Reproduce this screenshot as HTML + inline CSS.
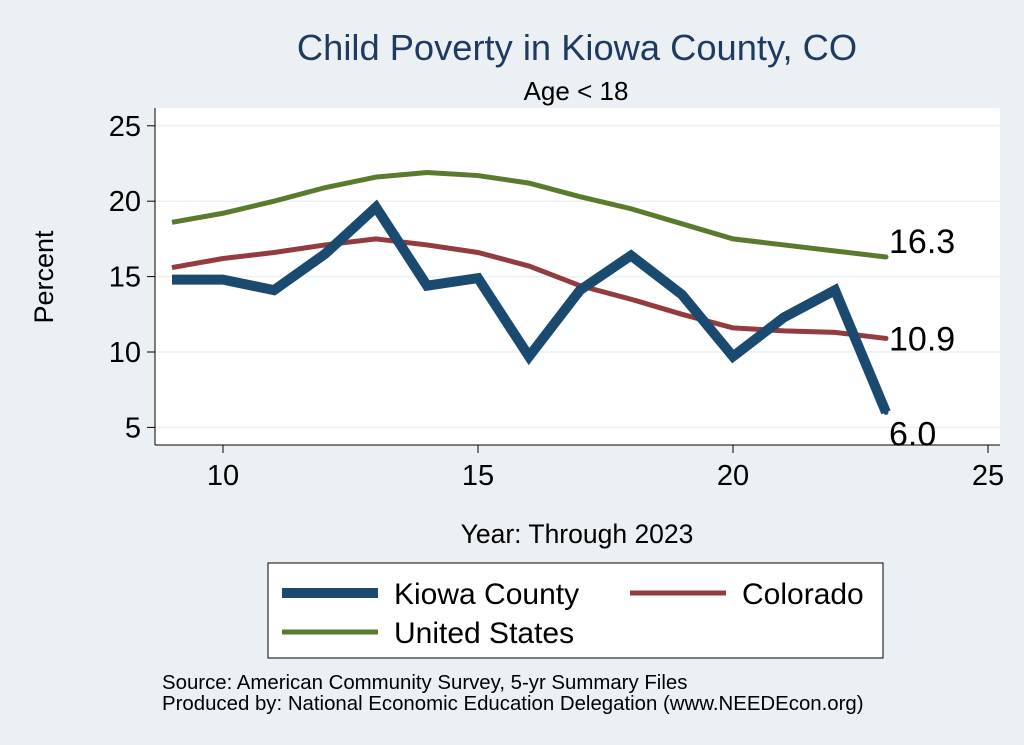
<!DOCTYPE html>
<html><head><meta charset="utf-8"><style>
html,body{margin:0;padding:0;background:#eaf0f3;}
svg{display:block;font-family:"Liberation Sans",Arial,sans-serif;}
</style></head><body>
<svg id="chart" width="1024" height="745" viewBox="0 0 1024 745">
<rect x="0" y="0" width="1024" height="745" fill="#eaf0f3"/>
<rect x="155" y="108" width="845" height="337" fill="#ffffff"/>
<text x="577" y="60" text-anchor="middle" font-size="36.3" fill="#1e3a5f">Child Poverty in Kiowa County, CO</text>
<text x="576" y="100" text-anchor="middle" font-size="26" fill="#000">Age &lt; 18</text>
<text transform="translate(53,277) rotate(-90)" text-anchor="middle" font-size="27" fill="#000">Percent</text>
<text x="577" y="543" text-anchor="middle" font-size="26.5" fill="#000">Year: Through 2023</text>
<g id="grid"></g><g id="axes"></g><g id="series"></g><g id="labels"></g>
<rect x="268" y="563" width="615" height="95" fill="#fff" stroke="#000" stroke-width="1"/>
<line x1="282" y1="593" x2="378" y2="593" stroke="#1b4a70" stroke-width="10"/>
<text x="394" y="604" font-size="30">Kiowa County</text>
<line x1="630" y1="593" x2="726" y2="593" stroke="#933b3f" stroke-width="5"/>
<text x="742" y="604" font-size="30">Colorado</text>
<line x1="282" y1="632" x2="378" y2="632" stroke="#5a7a2e" stroke-width="5"/>
<text x="394" y="643" font-size="30">United States</text>
<text x="162" y="689" font-size="20.4">Source: American Community Survey, 5-yr Summary Files</text>
<text x="162" y="710" font-size="20.4">Produced by: National Economic Education Delegation (www.NEEDEcon.org)</text>
</svg>
<script>
const years=[9,10,11,12,13,14,15,16,17,18,19,20,21,22,23];
const kiowa=[14.8,14.8,14.1,16.5,19.6,14.4,14.9,9.7,14.1,16.4,13.8,9.7,12.3,14.1,6.0];
const colorado=[15.6,16.2,16.6,17.1,17.5,17.1,16.6,15.7,14.4,13.5,12.5,11.6,11.4,11.3,10.9];
const us=[18.6,19.2,20.0,20.9,21.6,21.9,21.7,21.2,20.3,19.5,18.5,17.5,17.1,16.7,16.3];
const yTicks=[5,10,15,20,25];
const xTicks=[10,15,20,25];
const NS='http://www.w3.org/2000/svg';
const xs=v=>223+(v-10)*51;
const ys=v=>352-(v-10)*15.08;
function mk(tag,attrs,parent,txt){const e=document.createElementNS(NS,tag);for(const k in attrs)e.setAttribute(k,attrs[k]);if(txt!==undefined)e.textContent=txt;document.getElementById(parent).appendChild(e);return e;}
yTicks.forEach(t=>{
  const g=mk('line',{x1:155,x2:1000,y1:ys(t),y2:ys(t),stroke:'#eaf0f3','stroke-width':1.5},'grid');
  
  
  const tk=mk('line',{x1:147,x2:155,y1:ys(t),y2:ys(t),stroke:'#000'},'axes');
  
  
  const l=mk('text',{x:141,y:ys(t)+10,'text-anchor':'end','font-size':29},'axes',String(t));
  
  
});
const ya=mk('line',{x1:155,x2:155,y1:108,y2:445,stroke:'#000'},'axes');


const xa=mk('line',{x1:155,x2:1000,y1:445,y2:445,stroke:'#000'},'axes');


xTicks.forEach(t=>{
  const tk=mk('line',{x1:xs(t),x2:xs(t),y1:445,y2:453,stroke:'#000'},'axes');
  
  
  const l=mk('text',{x:xs(t),y:485,'text-anchor':'middle','font-size':29},'axes',String(t));
  
  
});
function line(data,color,w,name){
  const d=data.map((v,i)=>(i?'L':'M')+xs(years[i])+','+ys(v)).join(' ');
  const p=mk('path',{d:d,fill:'none',stroke:color,'stroke-width':w,'stroke-linejoin':'miter','stroke-linecap':'butt'},'series');
  
  
  const n=data.length-1;
  const c=mk('circle',{cx:xs(years[n]),cy:ys(data[n]),r:2.5,fill:color},'series');
  
  
}
line(us,'#5a7a2e',5,'us-line');
line(colorado,'#933b3f',5,'colorado-line');
line(kiowa,'#1b4a70',10,'kiowa-line');
const last=years.length-1;
[[us,-4,'us-end-label'],[colorado,12,'colorado-end-label'],[kiowa,33,'kiowa-end-label']].forEach(([d,dy,nm])=>{
  const t=mk('text',{x:xs(years[last])+3,y:ys(d[last])+dy,'font-size':34},'labels',d[last].toFixed(1));
  
  
});
</script>
</body></html>
